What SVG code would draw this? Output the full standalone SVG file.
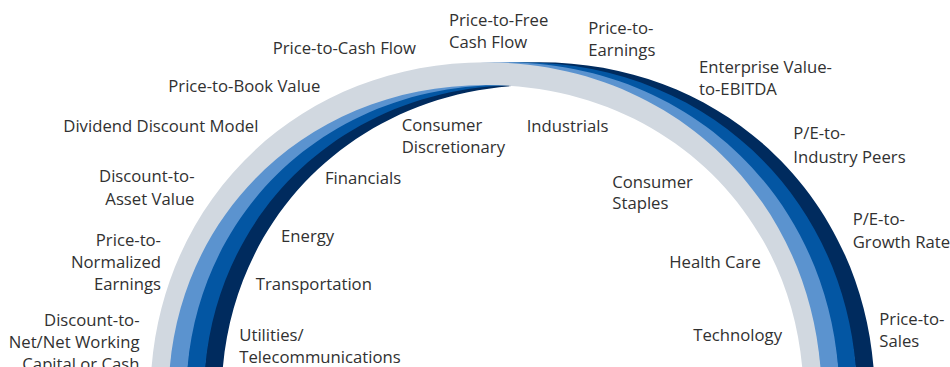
<svg xmlns="http://www.w3.org/2000/svg" xmlns:xlink="http://www.w3.org/1999/xlink" width="950" height="367" viewBox="0 0 950 367">
<style>
text{font-family:"Open Sans","Noto Sans","Liberation Sans",sans-serif;font-size:16.7px;fill:#313131}
.e{text-anchor:end}
</style>
<defs>
<path id="band" d="M150.3,398 C150.3,206.7 294.7,62.3 486,62.3 C677.3,62.3 821.7,206.7 821.7,398 L803.6,398 C803.6,219.6 667,85 486,85 C305,85 168.4,219.6 168.4,398 Z"/>
</defs>
<rect width="950" height="367" fill="#ffffff"/>
<g id="arcs">
<use xlink:href="#band" href="#band" x="53.1" fill="#002b5e"/>
<use xlink:href="#band" href="#band" x="35.4" fill="#0356a3"/>
<use xlink:href="#band" href="#band" x="17.7" fill="#5b93cf"/>
<use xlink:href="#band" href="#band" x="0" fill="#d1d8e0"/>
</g>
<g id="methods-left">
<g id="m-pcf"><text x="272.7" y="54">Price-to-Cash Flow</text></g>
<g id="m-pbv"><text x="168.3" y="92.3">Price-to-Book Value</text></g>
<g id="m-ddm"><text x="63.3" y="132.3">Dividend Discount Model</text></g>
<g id="m-dav"><text class="e" x="194.5" y="182.3">Discount-to-</text><text class="e" x="194.5" y="205">Asset Value</text></g>
<g id="m-pne"><text class="e" x="161" y="245.7">Price-to-</text><text class="e" x="161" y="268.3">Normalized</text><text class="e" x="161" y="290">Earnings</text></g>
<g id="m-dnw"><text class="e" x="139.5" y="326">Discount-to-</text><text class="e" x="139.5" y="348.3">Net/Net Working</text><text class="e" x="139.5" y="370">Capital or Cash</text></g>
</g>
<g id="methods-right">
<g id="m-pfcf"><text x="449" y="26">Price-to-Free</text><text x="449" y="47.7">Cash Flow</text></g>
<g id="m-pe"><text x="588.3" y="34.3">Price-to-</text><text x="588.3" y="55.5">Earnings</text></g>
<g id="m-ev"><text x="699" y="73.3">Enterprise Value-</text><text x="699" y="95">to-EBITDA</text></g>
<g id="m-pei"><text x="793.3" y="139.3">P/E-to-</text><text x="793.3" y="162.7">Industry Peers</text></g>
<g id="m-peg"><text x="852.7" y="225">P/E-to-</text><text x="852.7" y="247.7">Growth Rate</text></g>
<g id="m-ps"><text x="879.3" y="325">Price-to-</text><text x="879.3" y="346.7">Sales</text></g>
</g>
<g id="sectors">
<g id="s-cd"><text x="401.7" y="130.7">Consumer</text><text x="401.7" y="152.7">Discretionary</text></g>
<g id="s-ind"><text x="526.7" y="132.3">Industrials</text></g>
<g id="s-fin"><text x="325" y="184.3">Financials</text></g>
<g id="s-cs"><text x="612.3" y="187.7">Consumer</text><text x="612.3" y="209.3">Staples</text></g>
<g id="s-en"><text x="281" y="241.7">Energy</text></g>
<g id="s-hc"><text x="669.3" y="268.3">Health Care</text></g>
<g id="s-tr"><text x="255.7" y="290">Transportation</text></g>
<g id="s-ut"><text x="239.3" y="341">Utilities/</text><text x="239.3" y="362.7">Telecommunications</text></g>
<g id="s-tech"><text x="693.3" y="341">Technology</text></g>
</g>
</svg>
